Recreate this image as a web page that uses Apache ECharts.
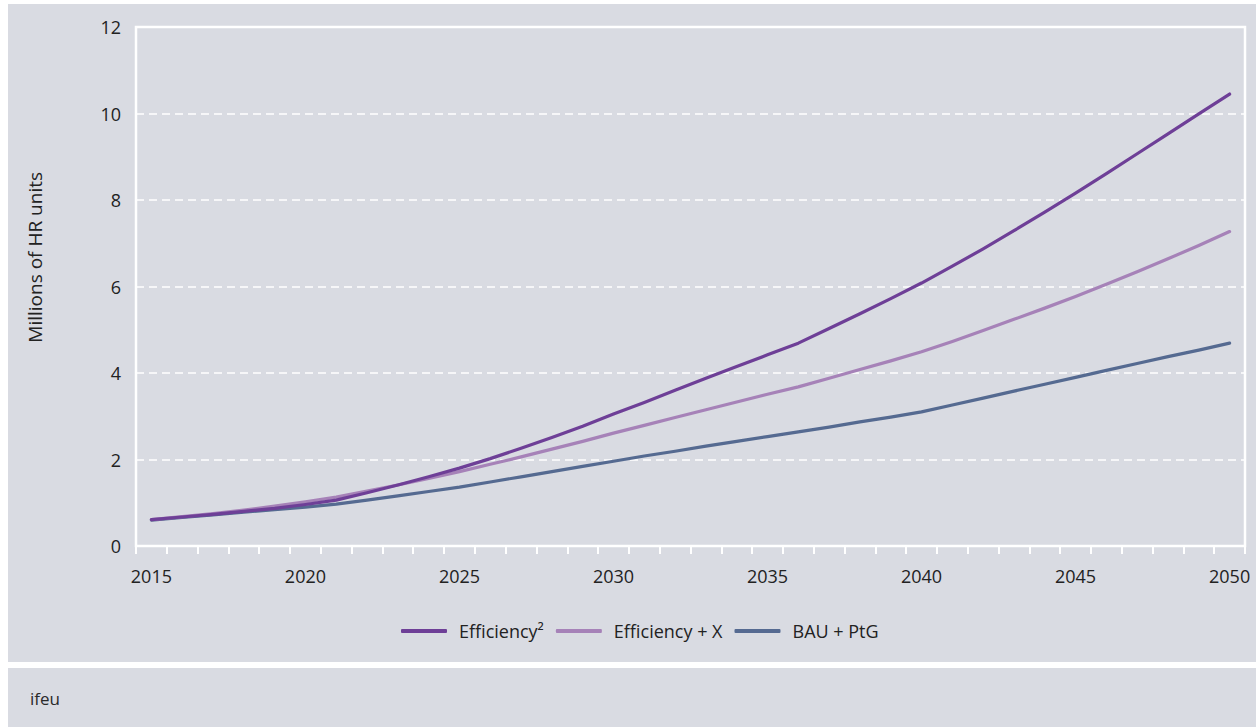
<!DOCTYPE html>
<html>
<head>
<meta charset="utf-8">
<script src="https://cdn.jsdelivr.net/npm/echarts@6/dist/echarts.min.js"></script>
<style>
  html, body { margin: 0; padding: 0; background: #ffffff; width: 1256px; height: 727px; overflow: hidden; }
  #chart { position: absolute; left: 8px; top: 4px; width: 1248px; height: 658px; background: #d9dbe2; }
  #footer { position: absolute; left: 8px; top: 668px; width: 1248px; height: 59px; background: #d9dbe2;
            font-family: "Open Sans", sans-serif; font-size: 17px; color: #2a2a2a; }
  #footer span { position: absolute; left: 22px; top: 19px; }
</style>
</head>
<body>
<div id="chart"></div>
<div id="footer"><span>ifeu</span></div>
<script>
const years = ["2015","2016","2017","2018","2019","2020","2021","2022","2023","2024","2025","2026",
  "2027","2028","2029","2030","2031","2032","2033","2034","2035","2036","2037","2038","2039","2040",
  "2041","2042","2043","2044","2045","2046","2047","2048","2049","2050"];
const seriesNames = ["Efficiency²", "Efficiency + X", "BAU + PtG"];
const efficiency2 = [0.61,0.67,0.73,0.80,0.87,0.96,1.06,1.23,1.41,1.60,1.80,2.02,2.26,2.51,2.77,3.05,
  3.32,3.60,3.88,4.15,4.42,4.69,5.03,5.37,5.72,6.08,6.47,6.87,7.29,7.72,8.16,8.61,9.07,9.53,9.99,10.45];
const efficiencyX = [0.61,0.68,0.75,0.83,0.92,1.02,1.13,1.27,1.41,1.56,1.72,1.89,2.06,2.24,2.42,2.61,
  2.79,2.97,3.15,3.33,3.51,3.68,3.88,4.08,4.28,4.49,4.73,4.98,5.24,5.50,5.77,6.05,6.34,6.64,6.95,7.27];
const bauPtG = [0.60,0.66,0.72,0.78,0.84,0.90,0.97,1.06,1.16,1.26,1.36,1.48,1.60,1.72,1.84,1.96,
  2.08,2.19,2.31,2.42,2.53,2.64,2.75,2.87,2.98,3.10,3.26,3.42,3.58,3.74,3.90,4.06,4.22,4.38,4.53,4.69];
const yAxisTitle = "Millions of HR units";
const colors = ["#6e3f97", "#a682b8", "#556a91"];

const FONT = '"Open Sans", sans-serif';
const chart = echarts.init(document.getElementById('chart'), null, { renderer: 'svg' });
const dataSets = [efficiency2, efficiencyX, bauPtG];
chart.setOption({
  animation: false,
  backgroundColor: '#d9dbe2',
  textStyle: { fontFamily: FONT, color: '#222' },
  grid: { left: 128, top: 23, right: 11, bottom: 116, show: true, borderColor: '#ffffff', borderWidth: 2.5, containLabel: false },
  legend: {
    left: 388, top: 613,
    icon: 'roundRect',
    itemWidth: 46, itemHeight: 4, itemGap: 12,
    data: seriesNames,
    textStyle: { fontFamily: FONT, fontSize: 18, color: '#222', padding: [0, 0, 0, 7] }
  },
  graphic: [{
    type: 'text', left: 17, top: 168, rotation: Math.PI / 2,
    style: { text: yAxisTitle, font: '19px ' + FONT, fill: '#222' }
  }],
  xAxis: {
    type: 'category', data: years, boundaryGap: true, offset: 3,
    axisLine: { show: false },
    axisTick: { show: true, interval: 0, length: 8, lineStyle: { color: '#ffffff', width: 2 } },
    axisLabel: { interval: 4, margin: 18, fontSize: 18, color: '#222', fontFamily: FONT },
    splitLine: { show: false }
  },
  yAxis: {
    type: 'value', min: 0, max: 12, interval: 2,
    axisLine: { show: false }, axisTick: { show: false },
    axisLabel: { margin: 15, fontSize: 18, color: '#222', fontFamily: FONT },
    splitLine: { show: true, lineStyle: { color: '#ffffff', width: 1.6, type: [8, 5] } }
  },
  series: seriesNames.map((n, i) => ({
    name: n, type: 'line', data: dataSets[i], symbol: 'none', smooth: false,
    lineStyle: { color: colors[i], width: 3.2, cap: 'round', join: 'round' },
    itemStyle: { color: colors[i] },
    z: 3 - i
  }))
});
</script>
</body>
</html>
